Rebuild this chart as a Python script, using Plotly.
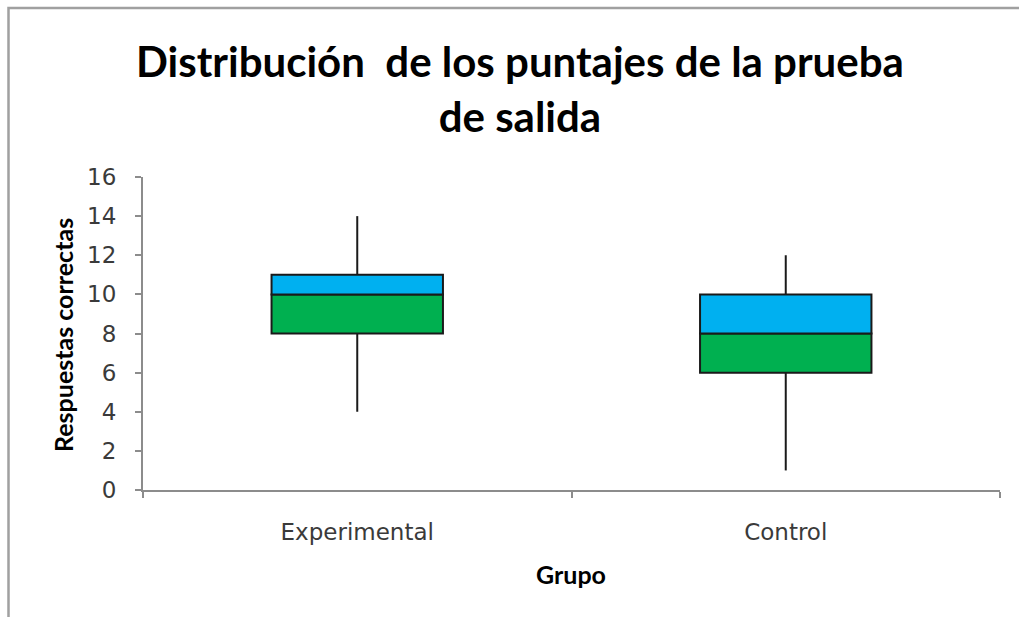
import plotly.graph_objects as go

# Resumen de cinco números por grupo
grupos = ["Experimental", "Control"]
minimo = [4, 1]
q1 = [8, 6]
mediana = [10, 8]
q3 = [11, 10]
maximo = [14, 12]

y_ticks = [0, 2, 4, 6, 8, 10, 12, 14, 16]

W, H = 1019, 617
L, R, T, B = 143, 19, 177, 127
pw, ph = W - L - R, H - T - B


def px_x(px):
    return (px - L) / pw


def px_y(py):
    return (H - B - py) / ph


fig = go.Figure()

# Bigotes: del mínimo a Q1 y de Q3 al máximo
wx, wy = [], []
for g, lo, a, b, hi in zip(grupos, minimo, q1, q3, maximo):
    wx += [g, g, None, g, g, None]
    wy += [lo, a, None, b, hi, None]
fig.add_trace(go.Scatter(x=wx, y=wy, mode="lines",
                         line=dict(color="#1a1a1a", width=2),
                         hoverinfo="skip", showlegend=False))

# Caja inferior (Q1 a mediana) en verde
fig.add_trace(go.Bar(x=grupos, y=[m - a for m, a in zip(mediana, q1)], base=q1,
                     width=0.4, marker=dict(color="#00B050",
                                            line=dict(color="#1a1a1a", width=2)),
                     showlegend=False))
# Caja superior (mediana a Q3) en azul
fig.add_trace(go.Bar(x=grupos, y=[b - m for b, m in zip(q3, mediana)], base=mediana,
                     width=0.4, marker=dict(color="#00B0F0",
                                            line=dict(color="#1a1a1a", width=2)),
                     showlegend=False))

axis_color = "#8c8c8c"
fig.update_layout(
    width=W, height=H,
    margin=dict(l=L, r=R, t=T, b=B),
    paper_bgcolor="white", plot_bgcolor="white",
    barmode="overlay",
    xaxis=dict(showline=True, linecolor=axis_color, linewidth=2,
               ticks="outside", tickson="boundaries", ticklen=6,
               tickcolor=axis_color, tickwidth=2,
               tickfont=dict(family="DejaVu Sans", size=23, color="#3a3a3a"),
               ticklabelstandoff=20,
               showgrid=False, zeroline=False),
    yaxis=dict(range=[0, 16], tickvals=y_ticks, showline=True,
               linecolor=axis_color, linewidth=2, ticks="outside",
               ticklen=6, tickcolor=axis_color, tickwidth=2,
               tickfont=dict(family="DejaVu Sans", size=23, color="#3a3a3a"),
               ticklabelstandoff=14,
               showgrid=False, zeroline=False),
)

# Título del gráfico
fig.add_annotation(text="<b>Distribución  de los puntajes de la prueba<br>de salida</b>",
                   xref="paper", yref="paper", x=px_x(520), y=px_y(89),
                   xanchor="center", yanchor="middle", showarrow=False,
                   font=dict(family="Lato", size=42, color="#000000"))

# Títulos de los ejes
fig.add_annotation(text="<b>Respuestas correctas</b>", textangle=-90,
                   xref="paper", yref="paper", x=px_x(63), y=px_y(335),
                   xanchor="center", yanchor="middle", showarrow=False,
                   font=dict(family="Lato", size=25, color="#000000"))
fig.add_annotation(text="<b>Grupo</b>",
                   xref="paper", yref="paper", x=px_x(571), y=px_y(574),
                   xanchor="center", yanchor="middle", showarrow=False,
                   font=dict(family="Lato", size=25, color="#000000"))

# Marco del área del gráfico
fig.add_shape(type="path", xref="paper", yref="paper",
              path=f"M {px_x(8.5)} {px_y(630)} L {px_x(8.5)} {px_y(8)} L {px_x(1030)} {px_y(8)}",
              line=dict(color="#a0a0a0", width=2.5))

fig.write_html("out.html")
